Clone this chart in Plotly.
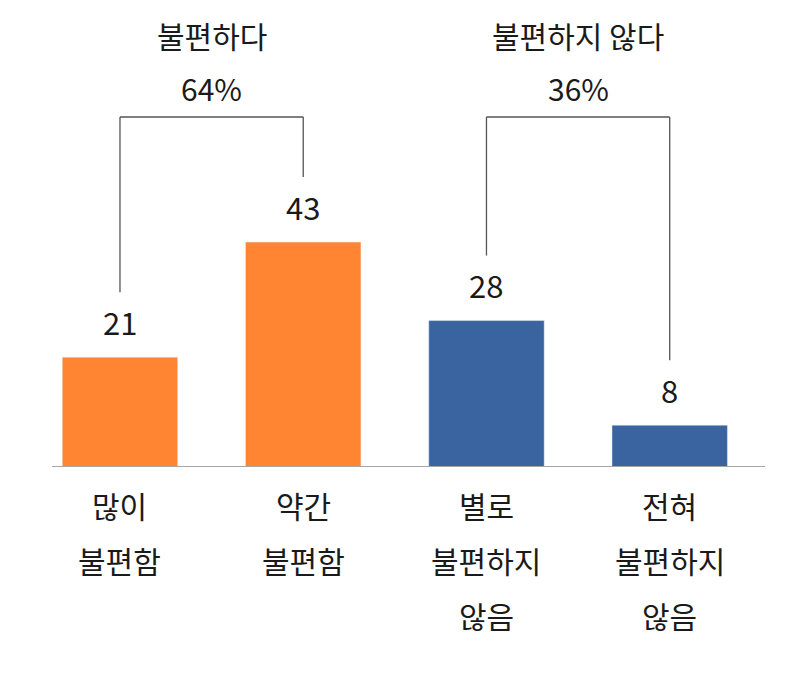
import plotly.graph_objects as go

categories = [["많이", "불편함"], ["약간", "불편함"], ["별로", "불편하지", "않음"], ["전혀", "불편하지", "않음"]]
values = [21, 43, 28, 8]
colors = ["#FF8533", "#FF8533", "#3A64A0", "#3A64A0"]
groups = [("불편하다", "64%", 0, 1), ("불편하지 않다", "36%", 2, 3)]

F = "Noto Sans CJK KR"
PX = 5.23  # px per unit
H = 459
fig = go.Figure(go.Bar(x=list(range(4)), y=values, marker_color=colors, width=0.63))

ann = []
for i, v in enumerate(values):
    ann.append(dict(x=i, y=v, text=str(v), showarrow=False, yanchor="middle", yshift=36,
                    font=dict(size=31, color="#1a1a1a", family=F)))
for i, lines in enumerate(categories):
    for j, t in enumerate(lines):
        ann.append(dict(x=i, y=0, yref="y", text=t, showarrow=False, yanchor="middle",
                        yshift=-38 - 55 * j, font=dict(size=30, color="#1a1a1a", family=F)))
shapes = []
top = (467 - 117) / PX
for name, pct, a, b in groups:
    cx = (a + b) / 2
    ann.append(dict(x=cx, y=(467 - 35) / PX, text=name, showarrow=False, font=dict(size=30, color="#1a1a1a", family=F)))
    ann.append(dict(x=cx, y=(467 - 88) / PX, text=pct, showarrow=False, font=dict(size=30, color="#1a1a1a", family=F)))
    for k in (a, b):
        shapes.append(dict(type="line", x0=k, x1=k, y0=values[k] + 65 / PX, y1=top, line=dict(color="#555", width=1.3)))
    shapes.append(dict(type="line", x0=a, x1=b, y0=top, y1=top, line=dict(color="#555", width=1.3)))
shapes.append(dict(type="line", xref="paper", x0=0, x1=1, y0=0, y1=0, line=dict(color="#a6a6a6", width=2)))

fig.update_layout(width=798, height=681, margin=dict(l=44, r=41, t=0, b=681 - H),
                  plot_bgcolor="white", paper_bgcolor="white", showlegend=False,
                  xaxis=dict(range=[-0.371, 3.52], visible=False),
                  yaxis=dict(range=[0, H / PX], visible=False),
                  annotations=ann, shapes=shapes)
fig.write_html("out.html")
